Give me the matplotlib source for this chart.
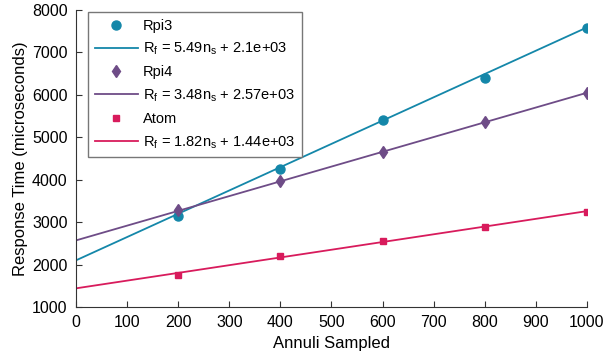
import numpy as np
import matplotlib
matplotlib.use('Agg')
import matplotlib.pyplot as plt

plt.rcParams['font.family'] = ['Liberation Sans', 'DejaVu Sans']
plt.rcParams['mathtext.fontset'] = 'custom'
plt.rcParams['mathtext.rm'] = 'Liberation Sans'
plt.rcParams['mathtext.it'] = 'Liberation Sans'

annuli = [200, 400, 600, 800, 1000]
rpi3 = [3150, 4245, 5410, 6400, 7575]
rpi4 = [3285, 3960, 4660, 5355, 6050]
atom = [1760, 2200, 2550, 2878, 3232]

names = ['Rpi3', 'Rpi4', 'Atom']
slopes = [5.49, 3.48, 1.82]
intercepts = ['2.1e+03', '2.57e+03', '1.44e+03']
colors = ['#1487a9', '#6e4c87', '#d81b5c']
markers = ['o', 'd', 's']
msizes = [6.5, 6.5, 4.5]

fig = plt.figure(figsize=(6.11, 3.55), dpi=100)
ax = fig.add_axes([0.1244, 0.1352, 0.8363, 0.8366])

xfit = np.array([0, 1000])
for name, ys, m, b, c, mk, ms in zip(names, [rpi3, rpi4, atom], slopes,
                                     intercepts, colors, markers, msizes):
    ax.plot(annuli, ys, linestyle='none', marker=mk, color=c, ms=ms, label=name)
    ax.plot(xfit, m * xfit + float(b), color=c, lw=1.3,
            label=r'R$_\mathrm{f}$ = %.2fn$_\mathrm{s}$ + %s' % (m, b))

ax.set_xlim(0, 1000)
ax.set_ylim(1000, 8000)
ax.set_xticks(range(0, 1001, 100))
ax.set_yticks(range(1000, 8001, 1000))
ax.tick_params(direction='in', labelsize=11.5, color='#333333', length=4)
ax.tick_params(axis='x', pad=6)
ax.tick_params(axis='y', pad=6)
for s in ['top', 'right']:
    ax.spines[s].set_visible(False)
for s in ['left', 'bottom']:
    ax.spines[s].set_color('#333333')
ax.set_xlabel('Annuli Sampled', fontsize=12, labelpad=4)
ax.set_ylabel('Response Time (microseconds)', fontsize=12, labelpad=3)

leg = ax.legend(loc='upper left', bbox_to_anchor=(0.0235, 0.993), borderaxespad=0,
                fontsize=10.5, fancybox=False, edgecolor='#777777', framealpha=1,
                handlelength=3.0, handletextpad=0.3, borderpad=0.45,
                labelspacing=0.56)
leg.get_frame().set_linewidth(1.0)

fig.savefig('out.png', dpi=100)
